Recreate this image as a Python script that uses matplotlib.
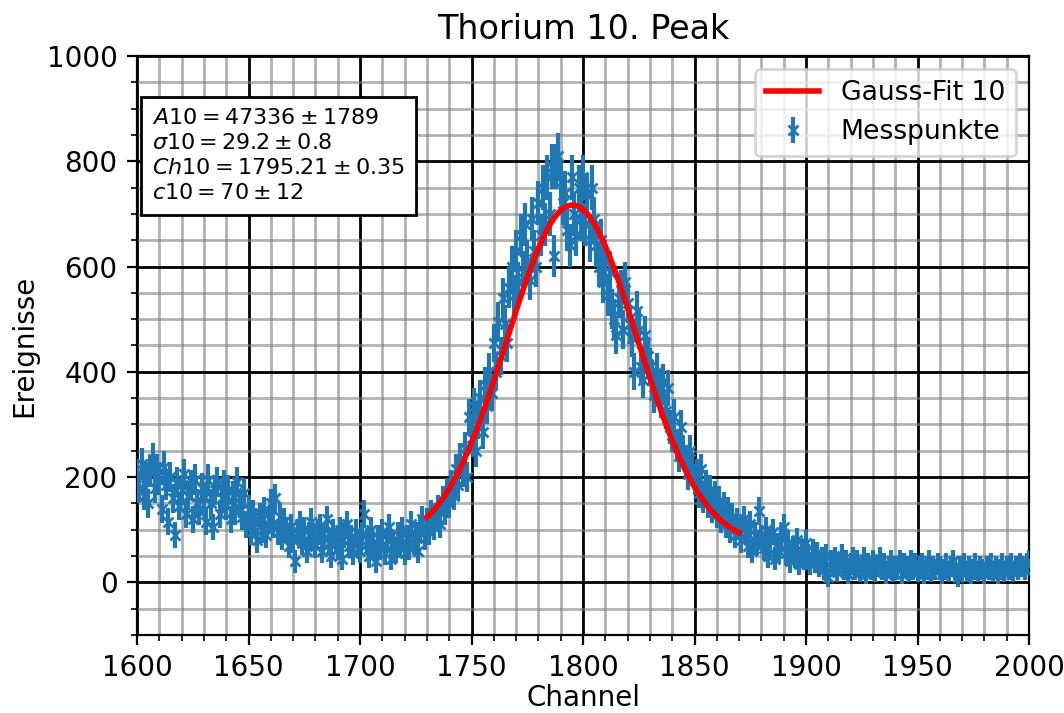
import numpy as np
import matplotlib
matplotlib.use("Agg")
import matplotlib.pyplot as plt
from matplotlib.ticker import MultipleLocator

# channel range of the spectrum
channel_start = 1600
channel_end = 2000

# counts per channel (10 channels per row)
counts = [
    205, 180, 225, 165, 200, 150, 210, 235, 180, 215,   # 1600
    195, 140, 220, 185, 115, 200, 160, 90, 190, 145,    # 1610
    175, 205, 130, 165, 185, 120, 195, 150, 135, 180,   # 1620
    160, 115, 195, 150, 105, 175, 190, 130, 160, 185,   # 1630
    145, 175, 120, 165, 135, 190, 150, 125, 170, 110,   # 1640
    140, 95, 130, 115, 80, 125, 100, 135, 90, 120,      # 1650
    150, 110, 160, 95, 125, 85, 115, 100, 70, 105,      # 1660
    80, 40, 95, 110, 75, 100, 60, 90, 115, 85,          # 1670
    70, 95, 105, 60, 85, 120, 75, 50, 95, 80,           # 1680
    65, 100, 45, 90, 110, 70, 85, 55, 95, 75,           # 1690
    60, 90, 130, 80, 50, 100, 70, 40, 85, 65,           # 1700
    95, 55, 80, 105, 45, 75, 60, 90, 70, 100,           # 1710
    55, 85, 65, 110, 75, 90, 60, 100, 120, 85,          # 1720
    115, 95, 130, 105, 125, 140, 110, 155, 135, 170,    # 1730
    150, 185, 165, 215, 185, 235, 210, 255, 200, 315,   # 1740
    275, 335, 250, 305, 350, 285, 375, 335, 400, 360,   # 1750
    455, 400, 495, 430, 540, 490, 455, 560, 600, 545,   # 1760
    630, 570, 660, 590, 680, 610, 575, 690, 630, 600,   # 1770
    720, 660, 750, 680, 770, 700, 790, 620, 790, 810,   # 1780
    760, 720, 740, 670, 640, 770, 700, 660, 750, 690,   # 1790
    770, 680, 735, 650, 750, 690, 640, 600, 650, 570,   # 1800
    610, 545, 590, 520, 500, 470, 540, 555, 480, 570,   # 1810
    530, 490, 465, 400, 515, 480, 410, 385, 470, 430,   # 1820
    410, 385, 355, 400, 365, 345, 380, 325, 370, 295,   # 1830
    280, 315, 260, 240, 295, 250, 230, 205, 250, 215,   # 1840
    195, 205, 170, 215, 160, 185, 150, 175, 140, 165,   # 1850
    130, 155, 120, 145, 110, 135, 100, 125, 90, 115,    # 1860
    105, 80, 120, 95, 70, 110, 60, 90, 75, 135,         # 1870
    85, 65, 100, 50, 80, 95, 45, 70, 60, 85,            # 1880
    105, 55, 75, 40, 65, 50, 80, 35, 60, 45,            # 1890
    75, 50, 35, 60, 40, 55, 30, 45, 25, 50,             # 1900
    10, 40, 30, 45, 20, 35, 50, 25, 40, 15,             # 1910
    35, 45, 25, 40, 20, 30, 45, 15, 35, 25,             # 1920
    40, 20, 30, 45, 25, 35, 15, 30, 40, 20,             # 1930
    30, 25, 40, 15, 35, 30, 20, 40, 25, 35,             # 1940
    20, 30, 35, 15, 25, 40, 20, 30, 25, 35,             # 1950
    30, 15, 25, 35, 20, 30, 40, 25, 10, 30,             # 1960
    25, 35, 20, 30, 15, 25, 35, 20, 30, 25,             # 1970
    15, 30, 25, 35, 20, 30, 15, 25, 35, 20,             # 1980
    30, 25, 35, 20, 30, 25, 35, 30, 25, 35,             # 1990
    40,                                                 # 2000
]

# error bars: poisson part plus a constant part
err_const = 15

# fit parameters as given in the text box
A10, A10_err = 47336, 1789
sigma10, sigma10_err = 29.2, 0.8
ch10, ch10_err = 1795.21, 0.35
c10, c10_err = 70, 12
fit_start, fit_end = 1730, 1870

channels = np.arange(channel_start, channel_end + 1)
counts = np.array(counts, dtype=float)
errors = np.sqrt(np.clip(counts, 1, None)) + err_const


def gauss(x, A, sigma, mu, c):
    return A / (np.sqrt(2 * np.pi) * sigma) * np.exp(-(x - mu) ** 2 / (2 * sigma ** 2)) + c


x_fit = np.linspace(fit_start, fit_end, 500)
y_fit = gauss(x_fit, A10, sigma10, ch10, c10)

fig = plt.figure(figsize=(1064 / 200, 713 / 200), dpi=200)
ax = fig.add_axes([0.1288, 0.1094, 0.8383, 0.8121])

ax.errorbar(channels, counts, yerr=errors, fmt='x', color='C0', markersize=3.5,
            label='Messpunkte', zorder=3)
ax.plot(x_fit, y_fit, color='red', linewidth=2, label='Gauss-Fit 10', zorder=4)

ax.set_xlim(1600, 2000)
ax.set_ylim(-100, 1000)
ax.xaxis.set_major_locator(MultipleLocator(50))
ax.xaxis.set_minor_locator(MultipleLocator(10))
ax.yaxis.set_major_locator(MultipleLocator(200))
ax.yaxis.set_minor_locator(MultipleLocator(50))
ax.grid(which='major', color='black', linewidth=1.0)
ax.grid(which='minor', color='gray', alpha=0.6, linewidth=1.0)
ax.set_axisbelow(True)

ax.set_title('Thorium 10. Peak')
ax.set_xlabel('Channel', labelpad=0.5)
ax.set_ylabel('Ereignisse', labelpad=3)

box_text = (r'$A10 = %d \pm %d$' % (A10, A10_err) + '\n'
            + r'$\sigma10 = %.1f \pm %.1f$' % (sigma10, sigma10_err) + '\n'
            + r'$Ch10 = %.2f \pm %.2f$' % (ch10, ch10_err) + '\n'
            + r'$c10 = %d \pm %d$' % (c10, c10_err))
ax.text(0.017, 0.91, box_text, transform=ax.transAxes, fontsize=8,
        va='top', ha='left', zorder=5, linespacing=1.32,
        bbox=dict(boxstyle='square,pad=0.5', facecolor='white', edgecolor='black'))

ax.legend(loc='upper right', fontsize=9.6)

fig.savefig('out.png', dpi=200)
